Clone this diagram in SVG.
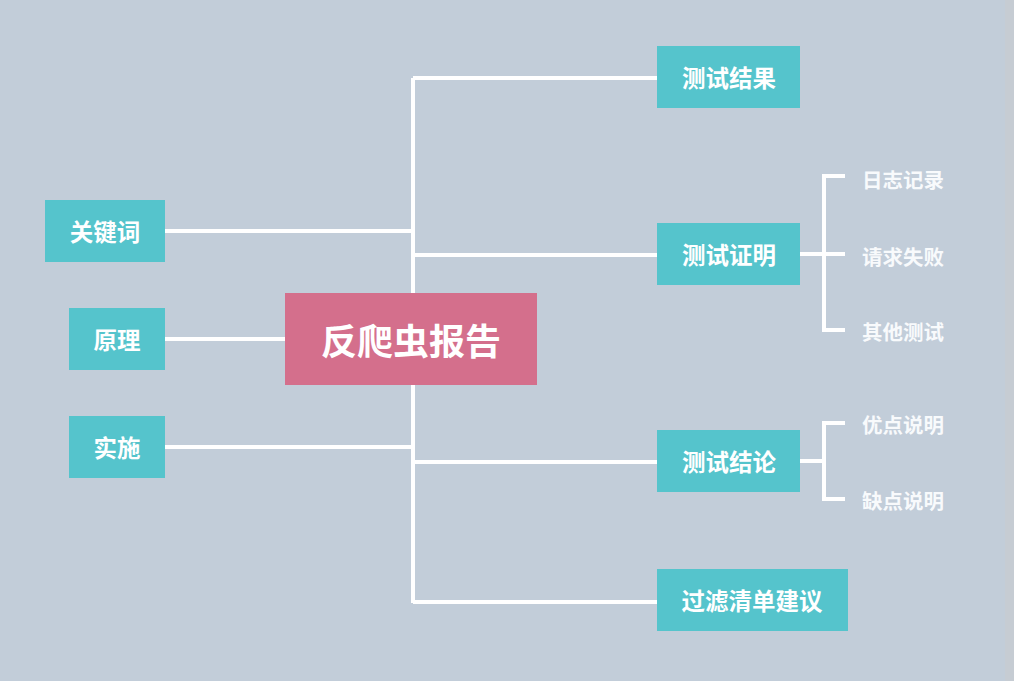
<svg xmlns="http://www.w3.org/2000/svg" width="1014" height="681" viewBox="0 0 1014 681">
<style>
.bg{fill:#c2cdd9}
.box{fill:#55c4cc}
.main{fill:#d46f8c}
.t{font-family:"Noto Sans CJK SC","Noto Sans",sans-serif;font-weight:bold;fill:#ffffff;text-anchor:middle;dominant-baseline:central}
.n{font-size:23.5px}
.m{font-size:36px}
.s{font-family:"Noto Sans CJK SC","Noto Sans",sans-serif;font-weight:bold;font-size:20.5px;fill:#f8fafc;dominant-baseline:central}
.c{stroke:#ffffff;stroke-width:4;fill:none}
</style>
<rect class="bg" x="0" y="0" width="1014" height="681"/>
<rect x="1005" y="0" width="9" height="681" fill="#c6ccd3"/>
<g id="connectors">
<path class="c" d="M413 78V603"/>
<path class="c" d="M413 78H657"/>
<path class="c" d="M165 231H413"/>
<path class="c" d="M413 255H657"/>
<path class="c" d="M165 339H285"/>
<path class="c" d="M165 447H413"/>
<path class="c" d="M413 462H657"/>
<path class="c" d="M413 602H657"/>
<path class="c" d="M800 254H845M845 176H824V330H845"/>
<path class="c" d="M800 461H824M845 423H824V499H845"/>
</g>
<g id="center"><rect class="main" x="285" y="293" width="252" height="92"/><text class="t m" x="411" y="339">反爬虫报告</text></g>
<g id="keywords"><rect class="box" x="45" y="200" width="120" height="62"/><text class="t n" x="105" y="231">关键词</text></g>
<g id="principle"><rect class="box" x="69" y="308" width="96" height="62"/><text class="t n" x="117" y="339">原理</text></g>
<g id="impl"><rect class="box" x="69" y="416" width="96" height="62"/><text class="t n" x="117" y="447">实施</text></g>
<g id="result"><rect class="box" x="657" y="46" width="143" height="62"/><text class="t n" x="729" y="77">测试结果</text></g>
<g id="proof"><rect class="box" x="657" y="223" width="143" height="62"/><text class="t n" x="729" y="254">测试证明</text></g>
<g id="conclusion"><rect class="box" x="657" y="430" width="143" height="62"/><text class="t n" x="729" y="461">测试结论</text></g>
<g id="filter"><rect class="box" x="657" y="569" width="191" height="62"/><text class="t n" x="752" y="600">过滤清单建议</text></g>
<g id="log"><text class="s" x="862" y="179">日志记录</text></g>
<g id="reqfail"><text class="s" x="862" y="256">请求失败</text></g>
<g id="other"><text class="s" x="862" y="331">其他测试</text></g>
<g id="pros"><text class="s" x="862" y="424">优点说明</text></g>
<g id="cons"><text class="s" x="862" y="500">缺点说明</text></g>
</svg>
